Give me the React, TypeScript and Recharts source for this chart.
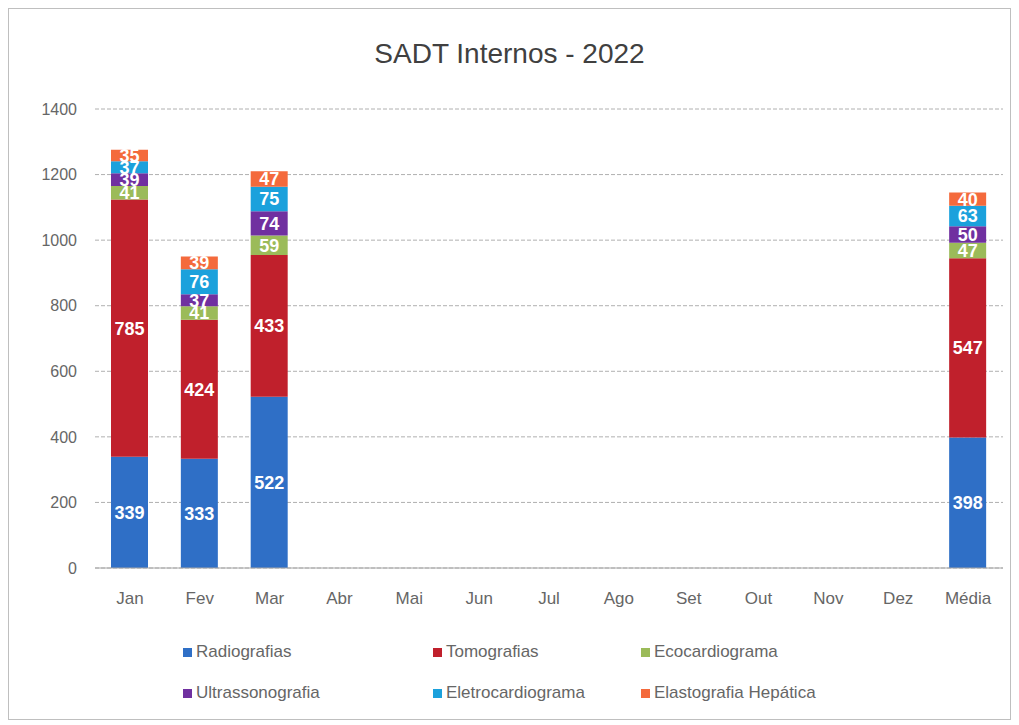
import { BarChart, Bar, XAxis, YAxis, CartesianGrid, Legend, LabelList } from 'recharts';

const months = ['Jan', 'Fev', 'Mar', 'Abr', 'Mai', 'Jun', 'Jul', 'Ago', 'Set', 'Out', 'Nov', 'Dez', 'Média'];
const radiografias = [339, 333, 522, null, null, null, null, null, null, null, null, null, 398];
const tomografias = [785, 424, 433, null, null, null, null, null, null, null, null, null, 547];
const ecocardiograma = [41, 41, 59, null, null, null, null, null, null, null, null, null, 47];
const ultrassonografia = [39, 37, 74, null, null, null, null, null, null, null, null, null, 50];
const eletrocardiograma = [37, 76, 75, null, null, null, null, null, null, null, null, null, 63];
const elastografia = [35, 39, 47, null, null, null, null, null, null, null, null, null, 40];
const yTicks = [0, 200, 400, 600, 800, 1000, 1200, 1400];

const series = [
  { key: 'rad', name: 'Radiografias', color: '#2f6fc6' },
  { key: 'tom', name: 'Tomografias', color: '#c0202c' },
  { key: 'eco', name: 'Ecocardiograma', color: '#9bbb59' },
  { key: 'ult', name: 'Ultrassonografia', color: '#7030a0' },
  { key: 'ele', name: 'Eletrocardiograma', color: '#1ba1dc' },
  { key: 'ela', name: 'Elastografia Hepática', color: '#f46a3c' },
];

const data = months.map((m, i) => ({
  month: m,
  rad: radiografias[i],
  tom: tomografias[i],
  eco: ecocardiograma[i],
  ult: ultrassonografia[i],
  ele: eletrocardiograma[i],
  ela: elastografia[i],
}));

const FONT = '"Liberation Sans", "Open Sans", sans-serif';

function LegendBox() {
  const cols = [174, 424, 632];
  return (
    <div style={{ position: 'relative', width: 1001, height: 90, fontFamily: FONT, fontSize: 17, color: '#666666' }}>
      {series.map((s, i) => (
        <div
          key={s.key}
          style={{
            position: 'absolute',
            left: cols[i % 3],
            top: i < 3 ? 12 : 53,
            display: 'flex',
            alignItems: 'center',
            whiteSpace: 'nowrap',
          }}
        >
          <span style={{ display: 'inline-block', width: 9, height: 9, background: s.color, marginRight: 4 }} />
          {s.name}
        </div>
      ))}
    </div>
  );
}

export default function App() {
  return (
    <div style={{ position: 'relative', width: 1001, height: 710, border: '1px solid #bfbfbf', background: '#fff' }}>
      <div
        style={{
          position: 'absolute',
          top: 29,
          left: 0,
          width: 1001,
          textAlign: 'center',
          fontFamily: FONT,
          fontSize: 28,
          color: '#404040',
        }}
      >
        SADT Internos - 2022
      </div>
      <BarChart width={1001} height={710} data={data} margin={{ top: 100, right: 7, bottom: 0, left: 0 }}>
        <CartesianGrid vertical={false} stroke="#b0b0b0" strokeDasharray="4 2" />
        <XAxis
          dataKey="month"
          axisLine={{ stroke: '#a6a6a6' }}
          tickLine={false}
          tick={{ fill: '#666666', fontSize: 17, fontFamily: FONT }}
          tickMargin={18}
          height={62}
        />
        <YAxis
          domain={[0, 1400]}
          ticks={yTicks}
          axisLine={false}
          tickLine={false}
          tick={{ fill: '#666666', fontSize: 16, fontFamily: FONT }}
          tickMargin={12}
          width={86}
        />
        <Legend verticalAlign="bottom" content={() => <LegendBox />} wrapperStyle={{ left: 0, bottom: 0 }} height={89} />
        {series.map((s) => (
          <Bar key={s.key} dataKey={s.key} name={s.name} stackId="a" fill={s.color} barSize={37} isAnimationActive={false}>
            <LabelList
              dataKey={s.key}
              position="center"
              fill="#ffffff"
              fontSize={18}
              fontWeight="bold"
              fontFamily={FONT}
            />
          </Bar>
        ))}
      </BarChart>
    </div>
  );
}
